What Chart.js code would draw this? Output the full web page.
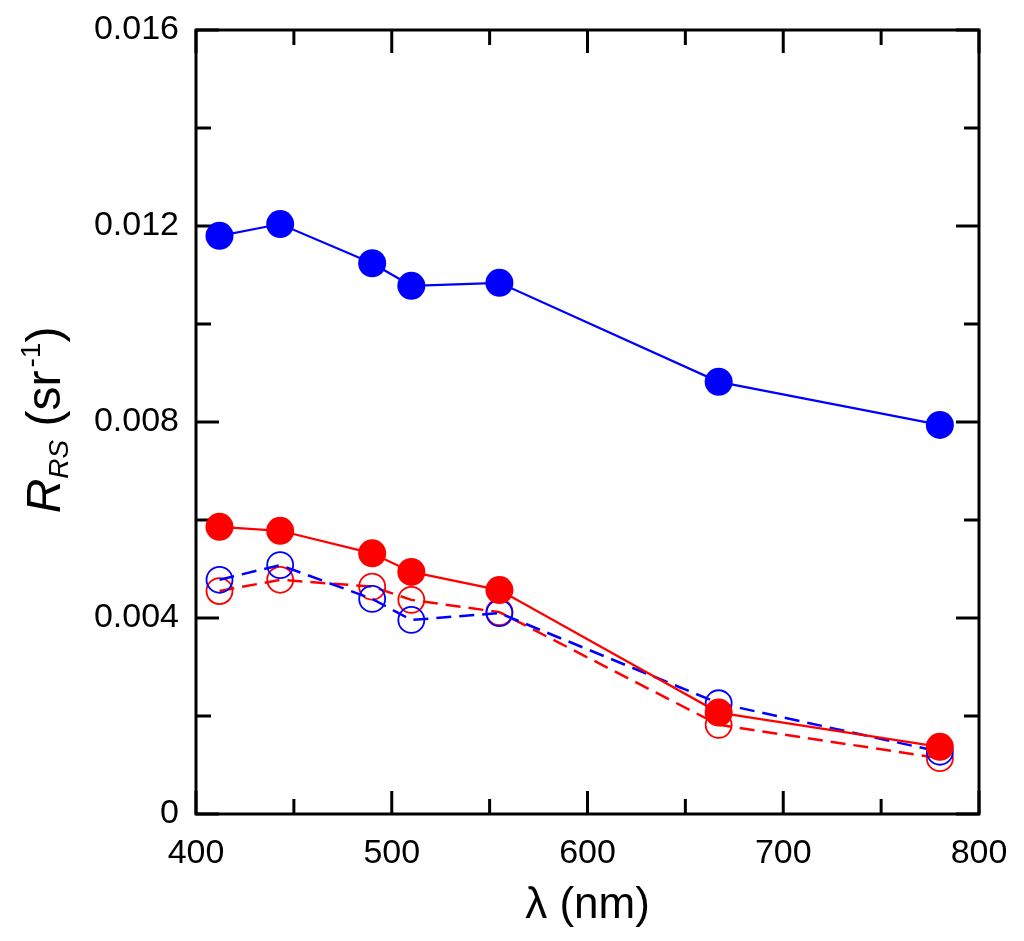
<!DOCTYPE html>
<html>
<head>
<meta charset="utf-8">
<script src="https://cdn.jsdelivr.net/npm/chart.js@4.4.1/dist/chart.umd.min.js"></script>
<style>
    body { margin: 0; background: #fff; }
    #wrap { width: 1024px; height: 941px; }
</style>
</head>
<body>
<div id="wrap"><canvas id="rrsChart" width="1024" height="941"></canvas></div>
<script>
// wavelengths (nm)
const wavelengths = [412, 443, 490, 510, 555, 667, 780];

// remote sensing reflectance (sr^-1)
const blueFilled = [0.01180, 0.01204, 0.01124, 0.01078, 0.01084, 0.00882, 0.00794];
const redFilled  = [0.00586, 0.00578, 0.00532, 0.00494, 0.00457, 0.00207, 0.00137];
const blueOpen   = [0.00478, 0.00508, 0.00439, 0.00396, 0.00410, 0.00226, 0.00127];
const redOpen    = [0.00455, 0.00478, 0.00464, 0.00437, 0.00412, 0.00182, 0.00114];

const FONT = '"Liberation Sans", Arial, sans-serif';

function toPoints(values) {
    return wavelengths.map((w, i) => ({ x: w, y: values[i] }));
}

function isMajorX(v) { return Math.round(v) % 100 === 0; }
function isMajorY(v) { return Math.round(v / 0.002) % 2 === 0; }

// frame with inward ticks on all four sides
const framePlugin = {
    id: 'frame',
    beforeDatasetsDraw(chart) {
        const { ctx, chartArea: a, scales } = chart;
        ctx.save();
        ctx.strokeStyle = '#000';
        ctx.lineWidth = 3;
        ctx.lineCap = 'butt';

        scales.x.ticks.forEach(t => {
            const px = scales.x.getPixelForValue(t.value);
            const len = isMajorX(t.value) ? 23 : 15;
            ctx.beginPath();
            ctx.moveTo(px, a.bottom);
            ctx.lineTo(px, a.bottom - len);
            ctx.moveTo(px, a.top);
            ctx.lineTo(px, a.top + len);
            ctx.stroke();
        });
        scales.y.ticks.forEach(t => {
            const py = scales.y.getPixelForValue(t.value);
            const len = isMajorY(t.value) ? 23 : 15;
            ctx.beginPath();
            ctx.moveTo(a.left, py);
            ctx.lineTo(a.left + len, py);
            ctx.moveTo(a.right, py);
            ctx.lineTo(a.right - len, py);
            ctx.stroke();
        });

        ctx.lineJoin = 'miter';
        ctx.strokeRect(a.left, a.top, a.right - a.left, a.bottom - a.top);
        ctx.restore();
    }
};

// y axis title with italic R, subscript RS and superscript -1
const yTitlePlugin = {
    id: 'yTitle',
    afterDraw(chart) {
        const { ctx, chartArea: a } = chart;
        const big = 48, small = 28;
        const parts = [
            { text: 'R', font: `italic ${big}px ${FONT}`, dy: 0 },
            { text: 'RS', font: `italic ${small}px ${FONT}`, dy: 8 },
            { text: ' (sr', font: `${big}px ${FONT}`, dy: 0 },
            { text: '-1', font: `${small}px ${FONT}`, dy: -20, gap: 3 },
            { text: ')', font: `${big}px ${FONT}`, dy: 0 }
        ];
        let total = 0;
        parts.forEach(p => {
            ctx.font = p.font;
            p.w = ctx.measureText(p.text).width;
            total += p.w + (p.gap || 0);
        });
        const cy = (a.top + a.bottom) / 2 - 2;
        ctx.save();
        ctx.translate(60, cy + total / 2);
        ctx.rotate(-Math.PI / 2);
        ctx.fillStyle = '#000';
        ctx.textBaseline = 'alphabetic';
        ctx.textAlign = 'left';
        let x = 0;
        parts.forEach(p => {
            x += p.gap || 0;
            ctx.font = p.font;
            ctx.fillText(p.text, x, p.dy);
            x += p.w;
        });
        ctx.restore();
    }
};

new Chart(document.getElementById('rrsChart'), {
    type: 'line',
    data: {
        datasets: [
            {
                label: 'blue filled',
                data: toPoints(blueFilled),
                borderColor: '#0000ff',
                backgroundColor: '#0000ff',
                borderWidth: 2.2,
                pointRadius: 14,
                pointBackgroundColor: '#0000ff',
                pointBorderWidth: 0,
                tension: 0
            },
            {
                label: 'red filled',
                data: toPoints(redFilled),
                borderColor: '#ff0000',
                backgroundColor: '#ff0000',
                borderWidth: 2.2,
                pointRadius: 14,
                pointBackgroundColor: '#ff0000',
                pointBorderWidth: 0,
                tension: 0
            },
            {
                label: 'blue open',
                data: toPoints(blueOpen),
                borderColor: '#0000ff',
                backgroundColor: 'transparent',
                borderWidth: 2.5,
                borderDash: [15, 8],
                pointRadius: 13,
                pointBackgroundColor: 'transparent',
                pointBorderColor: '#0000ff',
                pointBorderWidth: 1.8,
                tension: 0
            },
            {
                label: 'red open',
                data: toPoints(redOpen),
                borderColor: '#ff0000',
                backgroundColor: 'transparent',
                borderWidth: 2.5,
                borderDash: [15, 8],
                pointRadius: 13,
                pointBackgroundColor: 'transparent',
                pointBorderColor: '#ff0000',
                pointBorderWidth: 1.8,
                tension: 0
            }
        ]
    },
    options: {
        responsive: false,
        animation: false,
        clip: false,
        layout: {
            padding: { left: 0, right: 45, top: 30, bottom: 0 }
        },
        plugins: {
            legend: { display: false },
            tooltip: { enabled: false }
        },
        scales: {
            x: {
                type: 'linear',
                min: 400,
                max: 800,
                grid: { display: false, drawTicks: false },
                border: { display: false },
                afterFit: function(scale) {
                    scale.height = 127;
                    scale.paddingLeft = 0;
                    scale.paddingRight = 0;
                },
                ticks: {
                    stepSize: 50,
                    autoSkip: false,
                    maxRotation: 0,
                    padding: 19,
                    color: '#000',
                    font: { family: FONT, size: 34 },
                    callback: function(value) {
                        return isMajorX(value) ? String(value) : '';
                    }
                },
                title: {
                    display: true,
                    text: 'λ (nm)',
                    color: '#000',
                    font: { family: FONT, size: 44 },
                    padding: { top: 0, bottom: 9 }
                }
            },
            y: {
                type: 'linear',
                min: 0,
                max: 0.016,
                grid: { display: false, drawTicks: false },
                border: { display: false },
                afterFit: function(scale) {
                    scale.width = 196;
                    scale.paddingTop = 0;
                    scale.paddingBottom = 0;
                },
                ticks: {
                    stepSize: 0.002,
                    autoSkip: false,
                    padding: 17,
                    color: '#000',
                    font: { family: FONT, size: 34 },
                    callback: function(value) {
                        if (!isMajorY(value)) return '';
                        return value === 0 ? '0' : value.toFixed(3);
                    }
                }
            }
        }
    },
    plugins: [framePlugin, yTitlePlugin]
});
</script>
</body>
</html>
